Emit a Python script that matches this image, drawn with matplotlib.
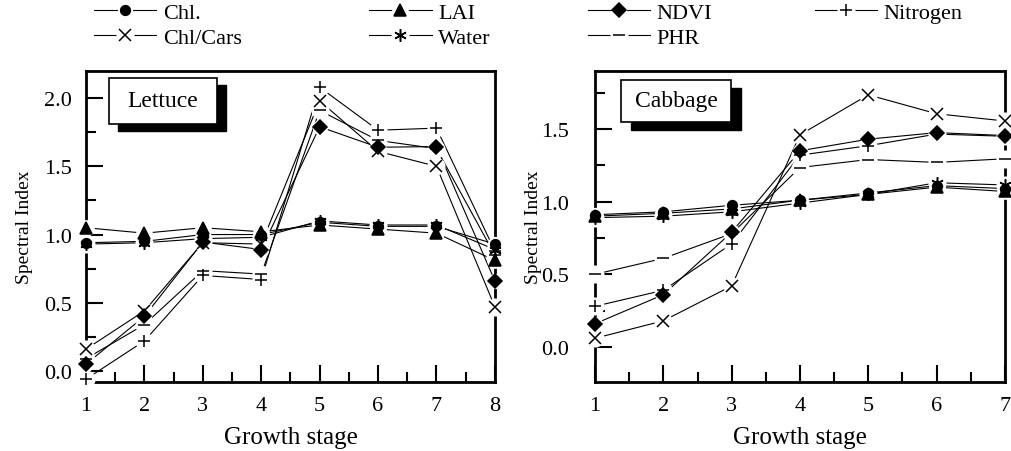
import matplotlib
matplotlib.use("Agg")
import matplotlib.pyplot as plt
from matplotlib.legend_handler import HandlerTuple
from matplotlib.lines import Line2D
from matplotlib.patches import Rectangle
from matplotlib.ticker import FormatStrFormatter, MultipleLocator

plt.rcParams["font.family"] = ["Liberation Serif", "DejaVu Serif"]

# Series names, in legend order
names = ["Chl.", "LAI", "NDVI", "Nitrogen", "Chl/Cars", "Water", "PHR"]

# Lettuce, growth stages 1-8
lettuce_stage = [1, 2, 3, 4, 5, 6, 7, 8]
lettuce_chl = [0.94, 0.95, 1.00, 1.00, 1.09, 1.06, 1.06, 0.93]
lettuce_lai = [1.05, 1.01, 1.05, 1.02, 1.07, 1.04, 1.01, 0.81]
lettuce_ndvi = [0.05, 0.40, 0.945, 0.89, 1.79, 1.64, 1.645, 0.66]
lettuce_nitrogen = [-0.06, 0.22, 0.70, 0.67, 2.08, 1.765, 1.78, 0.88]
lettuce_chlcars = [0.16, 0.44, 0.94, 0.93, 1.98, 1.61, 1.50, 0.47]
lettuce_water = [0.93, 0.94, 0.97, 0.98, 1.10, 1.07, 1.07, 0.89]
lettuce_phr = [0.09, 0.34, 0.735, 0.71, 1.91, 1.69, 1.63, 0.85]

# Cabbage, growth stages 1-7
cabbage_stage = [1, 2, 3, 4, 5, 6, 7]
cabbage_chl = [0.91, 0.93, 0.975, 1.01, 1.06, 1.11, 1.09]
cabbage_lai = [0.90, 0.92, 0.95, 1.01, 1.05, 1.10, 1.07]
cabbage_ndvi = [0.16, 0.36, 0.79, 1.35, 1.43, 1.475, 1.455]
cabbage_nitrogen = [0.28, 0.39, 0.71, 1.32, 1.385, 1.465, 1.45]
cabbage_chlcars = [0.06, 0.18, 0.42, 1.46, 1.735, 1.605, 1.555]
cabbage_water = [0.89, 0.90, 0.93, 0.99, 1.05, 1.13, 1.115]
cabbage_phr = [0.50, 0.61, 0.78, 1.235, 1.29, 1.27, 1.295]

markers = ["o", "^", "D", "+", "x", (6, 2, 0), "_"]
msizes = [7, 8, 7, 9, 9, 9, 9]


def draw_series(ax, x, y, marker, ms):
    ax.plot(x, y, color="black", lw=0.8, zorder=2, clip_on=False)
    # white halo gives the gap between line and marker
    ax.plot(x, y, ls="none", marker="o", ms=ms + 3, color="white",
            mec="white", zorder=3, clip_on=False)
    ax.plot(x, y, ls="none", marker=marker, ms=ms, color="black",
            mec="black", mew=1.1, zorder=4, clip_on=False)


def panel(ax, x, series, title, ylim, xmax, bx, shadow, ypad, ylabpad):
    for y, m, s in zip(series, markers, msizes):
        draw_series(ax, x, y, m, s)
    ax.set_xlim(1, xmax)
    ax.set_ylim(*ylim)
    ax.xaxis.set_major_locator(MultipleLocator(1))
    ax.xaxis.set_minor_locator(MultipleLocator(0.5))
    ax.yaxis.set_major_locator(MultipleLocator(0.5))
    ax.yaxis.set_minor_locator(MultipleLocator(0.25))
    ax.yaxis.set_major_formatter(FormatStrFormatter("%.1f"))
    ax.tick_params(which="both", direction="in", width=1.5, labelsize=16,
                   top=False, right=False)
    ax.tick_params(which="major", length=12)
    ax.tick_params(which="minor", length=7)
    ax.tick_params(axis="x", pad=10)
    ax.tick_params(axis="y", pad=ypad)
    for sp in ax.spines.values():
        sp.set_linewidth(2)
    ax.set_xlabel("Growth stage", fontsize=18, labelpad=8)
    ax.set_ylabel("Spectral Index", fontsize=14, labelpad=ylabpad)
    x0, y0, w, h = bx
    dx, dy = shadow
    ax.add_patch(Rectangle((x0 + dx, y0 - dy), w, h, transform=ax.transAxes,
                           facecolor="black", edgecolor="black", zorder=5))
    ax.add_patch(Rectangle((x0, y0), w, h, transform=ax.transAxes,
                           facecolor="white", edgecolor="black", lw=1.2,
                           zorder=6))
    ax.text(x0 + w / 2, y0 + h / 2, title, transform=ax.transAxes,
            ha="center", va="center", fontsize=17, zorder=7)


fig = plt.figure(figsize=(10.12, 4.52), dpi=100)
ax1 = fig.add_axes([0.085, 0.153, 0.404, 0.688])
ax2 = fig.add_axes([0.588, 0.153, 0.405, 0.688])

panel(ax1, lettuce_stage,
      [lettuce_chl, lettuce_lai, lettuce_ndvi, lettuce_nitrogen,
       lettuce_chlcars, lettuce_water, lettuce_phr],
      "Lettuce", (-0.08, 2.2), 8, (0.056, 0.83, 0.264, 0.147), (0.022, 0.023),
      10, 8)
panel(ax2, cabbage_stage,
      [cabbage_chl, cabbage_lai, cabbage_ndvi, cabbage_nitrogen,
       cabbage_chlcars, cabbage_water, cabbage_phr],
      "Cabbage", (-0.24, 1.9), 7, (0.063, 0.836, 0.269, 0.135), (0.024, 0.026),
      19, -1)

# legend: one small legend per column so the columns sit where they do
handles = []
for m, s in zip(markers, msizes):
    line = Line2D([], [], color="black", lw=0.8)
    halo = Line2D([], [], ls="none", marker="o", ms=s + 3, color="white",
                  mec="white")
    mark = Line2D([], [], ls="none", marker=m, ms=s, color="black",
                  mec="black", mew=1.1)
    handles.append((line, halo, mark))

col_x = [0.093, 0.365, 0.581, 0.805]
for i, cx in enumerate(col_x):
    idx = [j for j in (i, i + 4) if j < len(names)]
    fig.legend([handles[j] for j in idx], [names[j] for j in idx],
               loc="upper left", bbox_to_anchor=(cx, 0.992), frameon=False,
               fontsize=16, handlelength=2.8, handletextpad=0.3,
               labelspacing=0.2, borderpad=0, borderaxespad=0,
               handler_map={tuple: HandlerTuple(ndivide=1)})

fig.savefig("out.png", dpi=100)
